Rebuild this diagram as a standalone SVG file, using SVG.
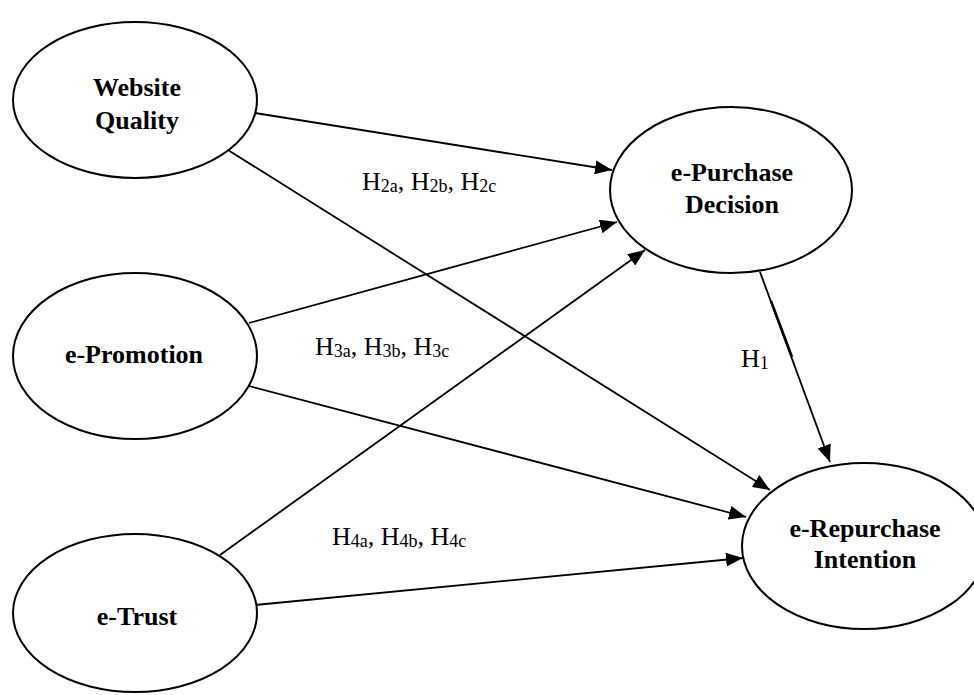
<svg xmlns="http://www.w3.org/2000/svg" width="974" height="695" viewBox="0 0 974 695">
<style>
.node ellipse{fill:#fff;stroke:#000;stroke-width:2}
.nt{font-family:"Liberation Serif","Times New Roman",serif;font-weight:bold;font-size:26px;text-anchor:middle;fill:#000}
.lbl{font-family:"Liberation Serif","Times New Roman",serif;font-size:26px;fill:#000}
.sub{font-size:18px}
.conn line{stroke:#000;stroke-width:1.8;fill:none}
</style>
<defs>
<marker id="ah" markerUnits="userSpaceOnUse" markerWidth="18" markerHeight="14" refX="17" refY="7" orient="auto">
<path d="M0,0 L17,7 L0,14 z" fill="#000"/>
</marker>
</defs>
<rect width="974" height="695" fill="#fff"/>
<g id="connectors" class="conn">
<line x1="255" y1="113" x2="612" y2="170" marker-end="url(#ah)"/>
<line x1="228" y1="150" x2="770" y2="490" marker-end="url(#ah)"/>
<line x1="249" y1="323" x2="617" y2="222" marker-end="url(#ah)"/>
<line x1="249" y1="386" x2="746" y2="517" marker-end="url(#ah)"/>
<line x1="220" y1="555" x2="645" y2="250" marker-end="url(#ah)"/>
<line x1="255" y1="605" x2="743" y2="558" marker-end="url(#ah)"/>
<line x1="760" y1="272" x2="830" y2="462" marker-end="url(#ah)"/>
<line x1="771" y1="301" x2="792" y2="357" style="stroke-width:2.6"/>
</g>
<g id="website-quality" class="node">
<ellipse cx="135" cy="100" rx="122" ry="78"/>
<text class="nt" x="137" y="96">Website</text>
<text class="nt" x="137" y="129">Quality</text>
</g>
<g id="e-promotion" class="node">
<ellipse cx="135" cy="356" rx="122" ry="83"/>
<text class="nt" x="134" y="363">e-Promotion</text>
</g>
<g id="e-trust" class="node">
<ellipse cx="135" cy="613" rx="122" ry="79"/>
<text class="nt" x="137" y="625">e-Trust</text>
</g>
<g id="e-purchase-decision" class="node">
<ellipse cx="731" cy="190" rx="121" ry="83"/>
<text class="nt" x="732" y="181">e-Purchase</text>
<text class="nt" x="732" y="213">Decision</text>
</g>
<g id="e-repurchase-intention" class="node">
<ellipse cx="864" cy="546" rx="122" ry="83"/>
<text class="nt" x="865" y="537">e-Repurchase</text>
<text class="nt" x="865" y="568">Intention</text>
</g>
<g id="labels">
<text class="lbl" x="362" y="190">H<tspan class="sub" dy="2">2a</tspan><tspan dy="-2">, H</tspan><tspan class="sub" dy="2">2b</tspan><tspan dy="-2">, H</tspan><tspan class="sub" dy="2">2c</tspan></text>
<text class="lbl" x="315" y="355">H<tspan class="sub" dy="2">3a</tspan><tspan dy="-2">, H</tspan><tspan class="sub" dy="2">3b</tspan><tspan dy="-2">, H</tspan><tspan class="sub" dy="2">3c</tspan></text>
<text class="lbl" x="332" y="545">H<tspan class="sub" dy="2">4a</tspan><tspan dy="-2">, H</tspan><tspan class="sub" dy="2">4b</tspan><tspan dy="-2">, H</tspan><tspan class="sub" dy="2">4c</tspan></text>
<text class="lbl" x="741" y="367">H<tspan class="sub" dy="2">1</tspan></text>
</g>
</svg>
